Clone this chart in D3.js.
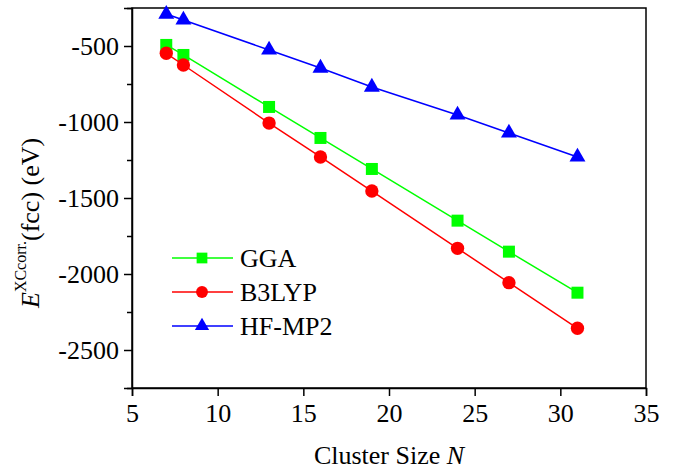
<!DOCTYPE html>
<html>
<head>
<meta charset="utf-8">
<script src="https://cdn.jsdelivr.net/npm/d3@7"></script>
<style>
  body { margin: 0; background: #fff; }
  svg text { font-family: "Liberation Serif", "Times New Roman", serif; fill: #000; }
</style>
</head>
<body>
<svg id="chart" width="673" height="471"></svg>
<script>
var clusterSizes = [7, 8, 13, 16, 19, 24, 27, 31];
var ggaValues = [-493, -559, -901, -1105, -1309, -1649, -1853, -2123];
var b3lypValues = [-548, -625, -1007, -1230, -1454, -1831, -2057, -2357];
var hfmp2Values = [-290, -329, -526, -645, -770, -954, -1072, -1230];
var xTicks = [5, 10, 15, 20, 25, 30, 35];
var yTicks = [-2500, -2000, -1500, -1000, -500];
var yMinorTicks = [-2750, -2250, -1750, -1250, -750, -250];

var series = [
  { name: 'GGA', values: ggaValues, color: '#00ff00', symbol: d3.symbolSquare, size: 144 },
  { name: 'B3LYP', values: b3lypValues, color: '#ff0000', symbol: d3.symbolCircle, size: 140 },
  { name: 'HF-MP2', values: hfmp2Values, color: '#0000ff', symbol: d3.symbolTriangle, size: 110 }
];

var plotLeft = 132, plotRight = 646, plotTop = 8, plotBottom = 388;
var svg = d3.select('#chart');

var x = d3.scaleLinear().domain([5, 35]).range([plotLeft, plotRight]);
var y = d3.scaleLinear().domain([-2750, -250]).range([plotBottom, plotTop]);

// frame
svg.append('rect').attr('x', plotLeft).attr('y', plotTop)
  .attr('width', plotRight - plotLeft).attr('height', plotBottom - plotTop)
  .attr('fill', 'none').attr('stroke', '#000').attr('stroke-width', 1.5);

var xAxis = svg.append('g').attr('transform', 'translate(0,' + plotBottom + ')')
  .call(d3.axisBottom(x).tickValues(xTicks).tickSize(8).tickPadding(5).tickFormat(d3.format('d')));
var yAxis = svg.append('g').attr('transform', 'translate(' + plotLeft + ',0)')
  .call(d3.axisLeft(y).tickValues(yTicks).tickSize(8).tickPadding(5).tickFormat(function(d) { return '' + d; }));
svg.append('g').attr('transform', 'translate(' + plotLeft + ',0)')
  .call(d3.axisLeft(y).tickValues(yMinorTicks).tickSize(5).tickFormat(''))
  .select('.domain').remove();

svg.selectAll('.domain').attr('stroke-width', 1.5);
svg.selectAll('.tick line').attr('stroke-width', 1.5);
xAxis.selectAll('text').style('font-size', '26px').attr('dy', '0.8em');
yAxis.selectAll('text').style('font-size', '26px');

var line = d3.line().x(function(d) { return x(d[0]); }).y(function(d) { return y(d[1]); });

series.forEach(function(s) {
  var pts = clusterSizes.map(function(n, i) { return [n, s.values[i]]; });
  svg.append('path').datum(pts).attr('d', line)
    .attr('fill', 'none').attr('stroke', s.color).attr('stroke-width', 1.5);
  svg.selectAll(null).data(pts).enter().append('path')
    .attr('d', d3.symbol().type(s.symbol).size(s.size))
    .attr('transform', function(d) { return 'translate(' + x(d[0]) + ',' + y(d[1]) + ')'; })
    .attr('fill', s.color);
});

// legend
var legend = svg.append('g');
series.forEach(function(s, i) {
  var ly = 258 + i * 34;
  legend.append('line').attr('x1', 172).attr('x2', 233).attr('y1', ly).attr('y2', ly)
    .attr('stroke', s.color).attr('stroke-width', 1.5);
  legend.append('path').attr('d', d3.symbol().type(s.symbol).size(s.size * 0.8)())
    .attr('transform', 'translate(202,' + ly + ')').attr('fill', s.color);
  legend.append('text').attr('x', 240).attr('y', ly).attr('dy', '0.35em')
    .style('font-size', '26px').text(s.name);
});

// axis titles
var xt = svg.append('text').attr('x', 389).attr('y', 464).attr('text-anchor', 'middle').style('font-size', '26px');
xt.append('tspan').text('Cluster Size ');
xt.append('tspan').style('font-style', 'italic').text('N');

var yt = svg.append('text').attr('transform', 'translate(39,308) rotate(-90)')
  .attr('text-anchor', 'start').style('font-size', '26px');
yt.append('tspan').style('font-style', 'italic').text('E');
yt.append('tspan').attr('dy', -13).style('font-size', '16px').text('XCcorr.');
yt.append('tspan').attr('dy', 13).text('(fcc) (eV)');
</script>
</body>
</html>
